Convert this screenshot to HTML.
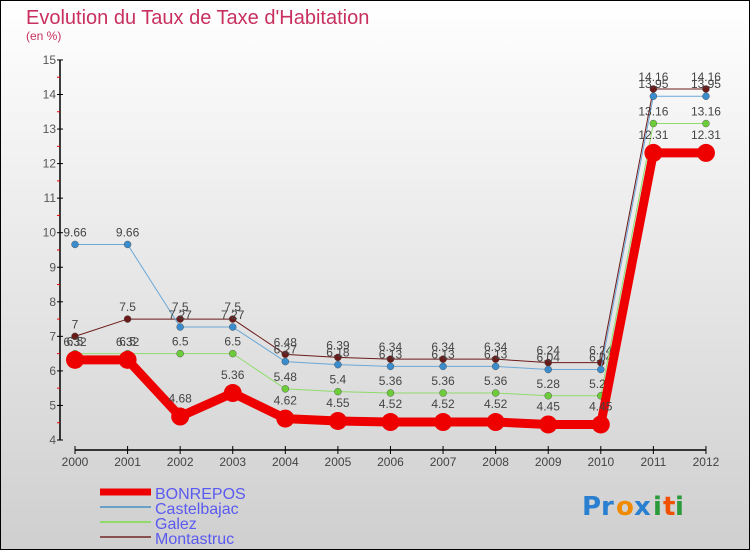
<!DOCTYPE html>
<html><head><meta charset="utf-8"><style>
html,body{margin:0;padding:0}
body{width:750px;height:550px;overflow:hidden;font-family:"Liberation Sans",sans-serif}
</style></head><body>
<svg id="chart" width="750" height="550" xmlns="http://www.w3.org/2000/svg">
<defs><linearGradient id="bg" x1="0" y1="0" x2="0" y2="1"><stop offset="0" stop-color="#ffffff"/><stop offset="1" stop-color="#cfcfcf"/></linearGradient></defs>
<rect x="0.5" y="0.5" width="749" height="549" fill="url(#bg)" stroke="#000"/>
<text x="26" y="24" font-size="20" fill="#c8305f">Evolution du Taux de Taxe d'Habitation</text>
<text x="26" y="40" font-size="12" fill="#c8305f">(en %)</text>
<g id="axes"></g>
<g id="series"></g>
<g id="legend"></g>
<g font-size="26" font-weight="bold" font-family="'DejaVu Sans',sans-serif">
<text x="582" y="515" fill="#2a7fd0">Pr</text><text x="616" y="515" fill="#f08a00">o</text><text x="634" y="515" fill="#2a7fd0">x</text><text x="653" y="515" fill="#2a9a3a">i</text><text x="663" y="515" fill="#f05000">t</text><text x="675" y="515" fill="#2a9a3a">i</text>
</g>
</svg>
<script>
const years=[2000,2001,2002,2003,2004,2005,2006,2007,2008,2009,2010,2011,2012];
const yTicks=[4,5,6,7,8,9,10,11,12,13,14,15];
const seriesNames=["BONREPOS","Castelbajac","Galez","Montastruc"];
const bonrepos=[6.32,6.32,4.68,5.36,4.62,4.55,4.52,4.52,4.52,4.45,4.45,12.31,12.31];
const castelbajac=[9.66,9.66,7.27,7.27,6.27,6.18,6.13,6.13,6.13,6.04,6.04,13.95,13.95];
const galez=[6.5,6.5,6.5,6.5,5.48,5.4,5.36,5.36,5.36,5.28,5.28,13.16,13.16];
const montastruc=[7,7.5,7.5,7.5,6.48,6.39,6.34,6.34,6.34,6.24,6.24,14.16,14.16];
const NS="http://www.w3.org/2000/svg";
const X=i=>75+i*52.58, Y=v=>440-(v-4)*34.55;
function mk(tag,attrs,parent,text){const e=document.createElementNS(NS,tag);for(const k in attrs)e.setAttribute(k,attrs[k]);if(text!==undefined)e.textContent=text;parent.appendChild(e);return e;}
const axes=document.getElementById('axes');
let ya=mk('line',{x1:60,y1:60,x2:60,y2:440,stroke:'#000','stroke-width':1.5},axes);


yTicks.forEach(v=>{
 mk('line',{x1:57,x2:63,y1:Y(v),y2:Y(v),stroke:'#000'},axes);
 let l=mk('text',{x:56,y:Y(v)+4,'font-size':12,fill:'#555','text-anchor':'end'},axes,String(v));
 
 
 if(v<15){mk('line',{x1:57,x2:60,y1:Y(v+0.5),y2:Y(v+0.5),stroke:'#e00'},axes);}
});
let xa=mk('line',{x1:X(0),y1:450,x2:X(12),y2:450,stroke:'#000','stroke-width':1.5},axes);


years.forEach((yr,i)=>{
 mk('line',{x1:X(i),x2:X(i),y1:446,y2:454,stroke:'#000'},axes);
 let l=mk('text',{x:X(i),y:466,'font-size':12,fill:'#444','text-anchor':'middle'},axes,String(yr));
 
 
});
const sg=document.getElementById('series');
const defs=[
 {d:montastruc,c:'#6b1a1a',w:1,r:3.5,n:'montastruc'},
 {d:castelbajac,c:'#3a8ccc',w:1,r:3.5,n:'castelbajac',lc:'#6aa8d8'},
 {d:galez,c:'#6ccc3a',w:1,r:3.5,n:'galez',lc:'#8fdc6a'},
 {d:bonrepos,c:'#ee0000',w:9,r:9,n:'bonrepos'}
];
defs.forEach(s=>{
 const g=mk('g',{},sg);
 
 
 let p=mk('polyline',{points:s.d.map((v,i)=>X(i)+','+Y(v)).join(' '),fill:'none',stroke:s.lc||s.c,'stroke-width':s.w,'stroke-linejoin':'round'},g);
 
 
 s.d.forEach((v,i)=>{
  let c=mk('circle',{cx:X(i),cy:Y(v),r:s.r,fill:s.c,stroke:s.w>1?'none':'#444','stroke-width':0.4},g);
  
  
  let t=mk('text',{x:X(i),y:Y(v)-(s.w>1?14:8),'font-size':12,fill:'#444','text-anchor':'middle'},g,String(v));
  
  
 });
});
const lg=document.getElementById('legend');
const lc=[['#ee0000',7],['#6aa0c8',2],['#8fdc6a',2],['#8a5050',2]];
seriesNames.forEach((n,i)=>{
 const y=492+i*15;
 const g=mk('g',{},lg);
 
 
 mk('line',{x1:100,x2:151,y1:y,y2:y,stroke:lc[i][0],'stroke-width':lc[i][1]},g);
 mk('text',{x:155,y:y+7,'font-size':16,fill:'#5a5af0'},g,n);
});
</script>
</body></html>
